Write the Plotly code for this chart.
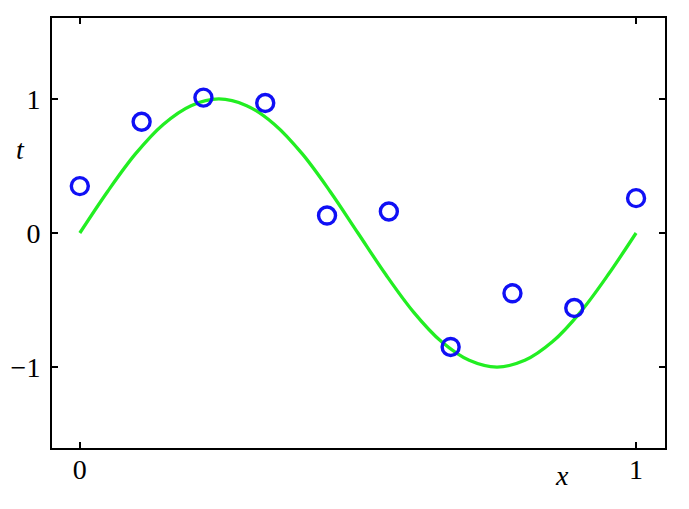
import plotly.graph_objects as go

# observed points (x = n/9)
x_obs = [0, 1/9, 2/9, 3/9, 4/9, 5/9, 6/9, 7/9, 8/9, 1]
t_obs = [0.35, 0.83, 1.01, 0.97, 0.13, 0.16, -0.85, -0.45, -0.56, 0.26]

# green curve, values
x_curve = [0, 0.05, 0.1, 0.15, 0.2, 0.25, 0.3, 0.35, 0.4, 0.45, 0.5,
           0.55, 0.6, 0.65, 0.7, 0.75, 0.8, 0.85, 0.9, 0.95, 1.0]
t_curve = [0, 0.31, 0.59, 0.81, 0.95, 1.0, 0.95, 0.81, 0.59, 0.31, 0,
           -0.31, -0.59, -0.81, -0.95, -1.0, -0.95, -0.81, -0.59, -0.31, 0]

x_ticks = [0, 1]
y_ticks = [-1, 0, 1]
y_labels = ['\u22121', '0', '1']

SERIF = 'Liberation Serif'

fig = go.Figure()
fig.add_trace(go.Scatter(
    x=x_curve, y=t_curve, mode='lines', line_shape='spline',
    line=dict(color='#22ee22', width=3.3), showlegend=False
))
fig.add_trace(go.Scatter(
    x=x_obs, y=t_obs, mode='markers',
    marker=dict(symbol='circle-open', size=17, color='#1010f5',
                line=dict(width=3.4, color='#1010f5')),
    showlegend=False
))

axis_common = dict(
    showline=True, linecolor='black', linewidth=2, mirror='allticks',
    ticks='inside', ticklen=6, tickwidth=2, tickcolor='black',
    showgrid=False, zeroline=False, automargin=False,
    tickfont=dict(family=SERIF, size=28, color='black'),
)

# page body has an 8px margin, so the figure is a bit smaller than the window
fig.update_layout(
    width=681, height=501,
    margin=dict(l=44, r=24, t=10, b=61),
    paper_bgcolor='white', plot_bgcolor='white',
    xaxis=dict(range=[-0.05, 1.052], tickvals=x_ticks, ticktext=['0', '1'],
               ticklabelstandoff=-5, **axis_common),
    yaxis=dict(range=[-1.604, 1.604], tickvals=y_ticks, ticktext=y_labels,
               ticklabelstandoff=4, **axis_common),
    annotations=[
        dict(text='<i>t</i>', xref='paper', yref='y', x=-0.062, y=0.62,
             showarrow=False, font=dict(family=SERIF, size=28, color='black')),
        dict(text='<i>x</i>', xref='x', yref='paper', x=0.866, y=-0.105,
             showarrow=False, font=dict(family=SERIF, size=28, color='black')),
    ],
)

fig.write_html("out.html")
